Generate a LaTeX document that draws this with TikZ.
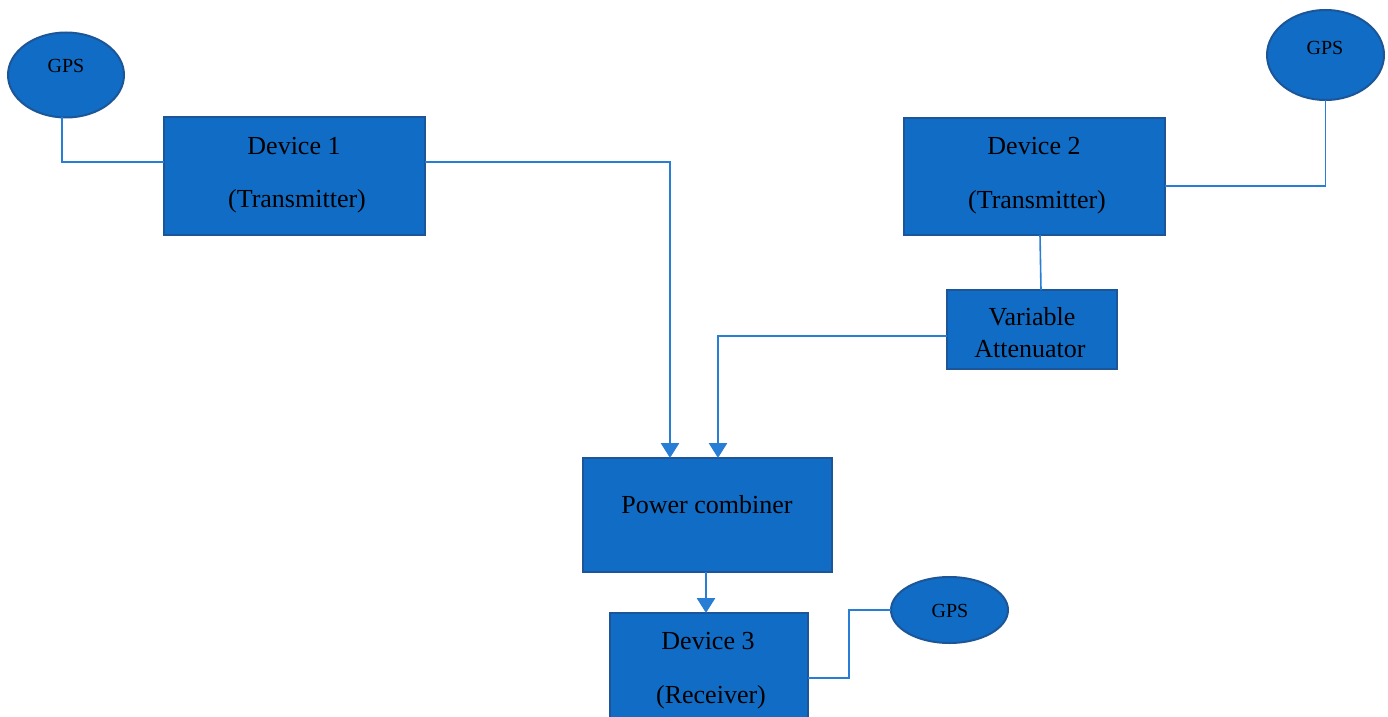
\documentclass[tikz,border=0pt]{standalone}
\usepackage{fontspec}
\setmainfont{Liberation Serif}
\usetikzlibrary{arrows.meta,shapes.geometric}
\definecolor{boxfill}{RGB}{16,108,196}
\definecolor{boxedge}{RGB}{28,86,152}
\definecolor{wirecol}{RGB}{40,126,212}
\begin{document}
\begin{tikzpicture}[x=0.5pt,y=-0.5pt,
  block/.style 2 args={draw=boxedge,fill=boxfill,line width=1pt,inner sep=0pt,outer sep=0pt,
    minimum width=#1*0.5pt,minimum height=#2*0.5pt},
  gps/.style 2 args={ellipse,draw=boxedge,fill=boxfill,line width=1pt,inner sep=0pt,outer sep=0pt,
    minimum width=#1*0.5pt,minimum height=#2*0.5pt},
  txt/.style={inner sep=0pt,font=\fontsize{13}{15}\selectfont},
  gpstxt/.style={inner sep=0pt,font=\fontsize{10}{12}\selectfont},
  thinwire/.style={draw=wirecol,line width=0.8pt},
  feed/.style={draw=wirecol,line width=1.4pt,-{Triangle[width=9pt,length=7.5pt]}}]
\useasboundingbox (0,0) rectangle (1388,717);

% blocks
\node[block={261}{118}] (d1) at (294.5,176) {};
\node[block={261}{117}] (d2) at (1034.5,176.5) {};
\node[block={170}{79}] (att) at (1032,329.5) {};
\node[block={249}{114}] (comb) at (707.5,515) {};
\node[block={198}{112}] (d3) at (709,669) {};

% GPS receivers
\node[gps={116}{85}] (g1) at (66,75) {};
\node[gps={117}{90}] (g2) at (1325.5,55) {};
\node[gps={117}{66}] (g3) at (949.5,610) {};

% labels
\node[txt] (d1a) at (294,146) {Device 1};
\node[txt] (d1b) at (297,201) {(Transmitter)};
\node[txt] (d2a) at (1034,146) {Device 2};
\node[txt] (d2b) at (1037,202) {(Transmitter)};
\node[txt] (atta) at (1032,317) {Variable};
\node[txt] (attb) at (1030,349) {Attenuator};
\node[txt] (comba) at (707,505) {Power combiner};
\node[txt] (d3a) at (708,641) {Device 3};
\node[txt] (d3b) at (711,697) {(Receiver)};
\node[gpstxt] (g1t) at (66,66) {GPS};
\node[gpstxt] (g2t) at (1325,48) {GPS};
\node[gpstxt] (g3t) at (950,611) {GPS};

% connections
\draw[thinwire] ([xshift=-2pt]g1.south) |- ([yshift=7pt]d1.west);
\draw[thinwire] (g2.south) |- ([yshift=-4.75pt]d2.east);
\draw[thinwire] ([xshift=2.75pt]d2.south) -- ([xshift=4.5pt]att.north);
\draw[thinwire] ([yshift=-4.5pt]d3.east) -- ++(41,0) |- (g3.west);
\draw[feed] ([yshift=7pt]d1.east) -| ([xshift=-18.75pt]comb.north);
\draw[feed] ([yshift=-3.25pt]att.west) -| ([xshift=5.25pt]comb.north);
\draw[feed] ([xshift=-0.75pt]comb.south) -- ([xshift=-0.75pt]comb.south |- d3.north);
\end{tikzpicture}
\end{document}
